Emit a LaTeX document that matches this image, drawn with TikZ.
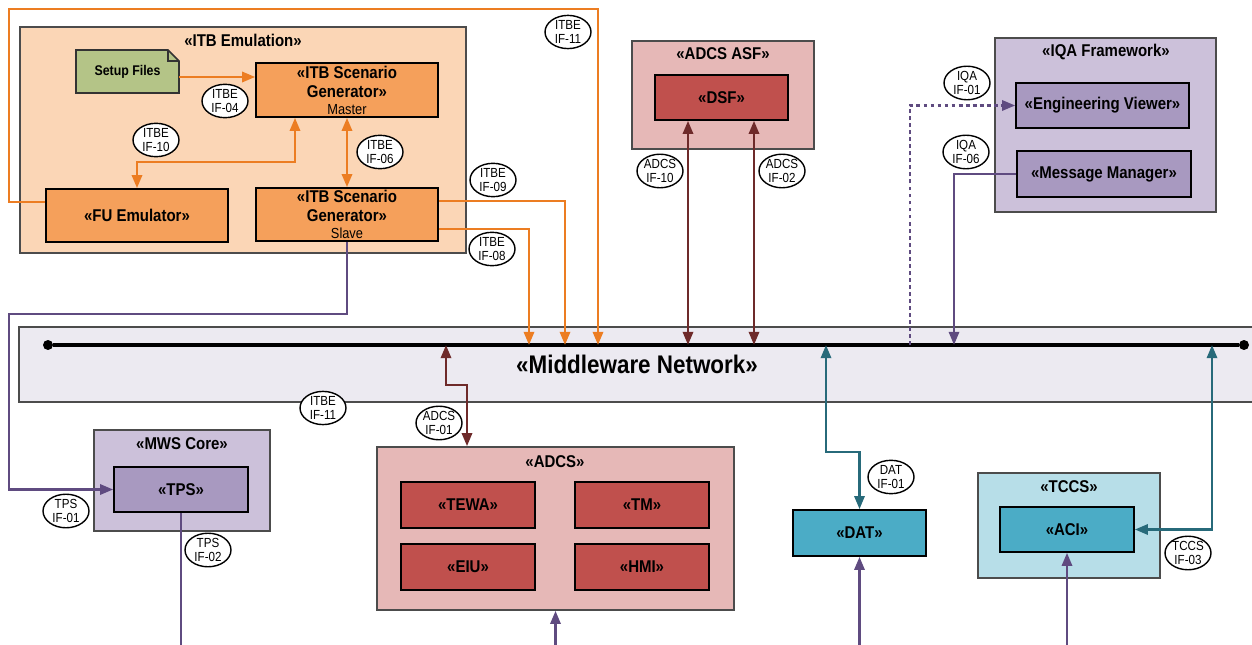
\documentclass[tikz,border=0pt]{standalone}
\usepackage{fontspec}
\setmainfont{Liberation Sans}[FakeStretch=0.88]
\usepackage{tikz}
\usetikzlibrary{
  	positioning,
  	arrows.meta,
  	shapes,
  	calc
  }
\definecolor{lnorange}{RGB}{236,125,34}
\definecolor{itbfill}{RGB}{251,214,182}
\definecolor{orgbox}{RGB}{245,160,91}
\definecolor{setupgreen}{RGB}{180,196,135}
\definecolor{asffill}{RGB}{230,184,183}
\definecolor{redbox}{RGB}{192,80,77}
\definecolor{brownln}{RGB}{110,42,42}
\definecolor{iqafill}{RGB}{204,193,218}
\definecolor{purpbox}{RGB}{168,153,192}
\definecolor{purpln}{RGB}{95,75,128}
\definecolor{tccsfill}{RGB}{183,222,232}
\definecolor{tealbox}{RGB}{75,172,198}
\definecolor{tealln}{RGB}{39,106,122}
\definecolor{mwfill}{RGB}{236,234,241}
\newcommand{\ttlfont}{\fontsize{9.7}{11}\bfseries}
\newcommand{\blkfont}{\fontsize{9.7}{11}\bfseries}
\newcommand{\subfont}{\fontsize{8.3}{9}\mdseries}
\newcommand{\ifcfont}{\fontsize{7.5}{8.2}\selectfont}

\begin{document}
\begin{tikzpicture}[x=0.02cm, y=-0.02cm,
  grp/.style={draw=black!70, line width=0.9pt, inner sep=0pt},
  blk/.style={draw=black, line width=0.9pt, inner sep=0pt, align=center, font=\blkfont},
  ttl/.style={inner sep=0pt, font=\ttlfont},
  ifc/.style={ellipse, draw, fill=white, line width=0.8pt, minimum width=0.92cm, minimum height=0.62cm,
    inner sep=0pt, align=center, font=\ifcfont},
  tap/.style={circle, fill=black, inner sep=0pt, minimum size=0.2cm},
  orl/.style={draw=lnorange, line width=1.5pt},
  brl/.style={draw=brownln, line width=1.5pt},
  ppl/.style={draw=purpln, line width=1.5pt},
  tll/.style={draw=tealln, line width=1.5pt},
  >={Triangle[length=7.5pt,width=5.8pt]}]
  \useasboundingbox (0,0) rectangle (1252,645);
  \coordinate (bot) at (0,645);
%
  \node[grp, fill=mwfill, minimum width=24.82cm, minimum height=1.5cm] (mw) at (639.5,364.5) {};
  \node[font=\fontsize{14.5}{16}\bfseries] (mwT) at (637,364) {«Middleware Network»};
  \node[tap] (netL) at (48,345) {};
  \node[tap] (netR) at (1244,345) {};
  \draw[line width=1.8pt] (netL) -- (netR);
%
  \node[grp, fill=itbfill, minimum width=8.92cm, minimum height=4.52cm] (itbem) at (243,140) {};
  \node[ttl] (itbemT) at (243,40) {«ITB Emulation»};
  \filldraw[fill=setupgreen, draw=black!80, line width=0.9pt] (76,50) -- (168,50) -- (179,61) -- (179,93) -- (76,93) -- cycle;
  \draw[draw=black!80, line width=0.7pt] (168,50) |- (179,61);
  \node[font=\fontsize{8}{9}\bfseries, inner sep=0pt, minimum width=2.06cm, minimum height=0.86cm] (setup) at (127.5,71.5) {Setup Files};
  \node[blk, fill=orgbox, minimum width=3.64cm, minimum height=1.08cm] (master) at (347,90)
    {«ITB Scenario\\Generator»\\[-1.5pt]{\subfont Master}};
  \node[blk, fill=orgbox, minimum width=3.64cm, minimum height=1.06cm] (fuemu) at (137,215.5) {«FU Emulator»};
  \node[blk, fill=orgbox, minimum width=3.64cm, minimum height=1.06cm] (slave) at (347,214.5)
    {«ITB Scenario\\Generator»\\[-1.5pt]{\subfont Slave}};
%
  \node[grp, fill=asffill, minimum width=3.64cm, minimum height=2.16cm] (adcsasf) at (723,95) {};
  \node[ttl] (adcsasfT) at (723,54) {«ADCS ASF»};
  \node[blk, fill=redbox, minimum width=2.66cm, minimum height=0.9cm] (dsf) at (721.5,97.5) {«DSF»};
%
  \node[grp, fill=iqafill, minimum width=4.42cm, minimum height=3.48cm] (iqa) at (1105.5,125) {};
  \node[ttl] (iqaT) at (1106,52) {«IQA Framework»};
  \node[blk, fill=purpbox, minimum width=3.46cm, minimum height=0.9cm] (engview) at (1102.5,105.5) {«Engineering Viewer»};
  \node[blk, fill=purpbox, minimum width=3.48cm, minimum height=0.92cm] (msgmgr) at (1104,174) {«Message Manager»};
%
  \node[grp, fill=iqafill, minimum width=3.52cm, minimum height=2.02cm] (mws) at (182,480.5) {};
  \node[ttl] (mwsT) at (182,444) {«MWS Core»};
  \node[blk, fill=purpbox, minimum width=2.68cm, minimum height=0.9cm] (tps) at (181,489.5) {«TPS»};
%
  \node[grp, fill=asffill, minimum width=7.14cm, minimum height=3.26cm] (adcs) at (555.5,528.5) {};
  \node[ttl] (adcsT) at (555,462) {«ADCS»};
  \node[blk, fill=redbox, minimum width=2.68cm, minimum height=0.92cm] (tewa) at (468,505) {«TEWA»};
  \node[blk, fill=redbox, minimum width=2.68cm, minimum height=0.92cm] (tm) at (642,505) {«TM»};
  \node[blk, fill=redbox, minimum width=2.68cm, minimum height=0.92cm] (eiu) at (468,567) {«EIU»};
  \node[blk, fill=redbox, minimum width=2.68cm, minimum height=0.92cm] (hmi) at (642,567) {«HMI»};
%
  \node[blk, fill=tealbox, minimum width=2.66cm, minimum height=0.92cm] (dat) at (859.5,533) {«DAT»};
  \node[grp, fill=tccsfill, minimum width=3.64cm, minimum height=2.1cm] (tccs) at (1069,525.5) {};
  \node[ttl] (tccsT) at (1069,487) {«TCCS»};
  \node[blk, fill=tealbox, minimum width=2.68cm, minimum height=0.9cm] (aci) at (1067,529.5) {«ACI»};
%
  % taps on the network line
  \coordinate (n08) at (529,345);
  \coordinate (n09) at (565,345);
  \coordinate (n11) at (598,345);
  \coordinate (na01) at (446,345);
  \coordinate (na10) at (688,345);
  \coordinate (na02) at (754,345);
  \coordinate (nd01) at (826,345);
  \coordinate (nq01) at (910,345);
  \coordinate (nq06) at (954,345);
  \coordinate (nt03) at (1212,345);
%
  \draw[orl, ->] (setup.east |- 0,77) -- (master.west |- 0,77);
  \draw[orl, <->] (fuemu.north) |- (295,162) -- (master.south -| 295,0);
  \draw[orl, <->] (master.south) -- (slave.north);
  \draw[orl, ->] (slave.east |- 0,201) -| (n09);
  \draw[orl, ->] (slave.east |- 0,229) -| (n08);
  \draw[orl, ->] (fuemu.west |- 0,202) -| (9,9) -| (n11);
  \draw[ppl, ->] (slave.south) |- (9,314) |- (tps.west);
  \draw[ppl] (tps.south) -- (tps.south |- bot);
  \draw[brl, <->] (na01) |- (467,385) -- (adcs.north -| 467,0);
  \draw[brl, <->] (na10) -- (dsf.south -| na10);
  \draw[brl, <->] (na02) -- (dsf.south -| na02);
  \draw[ppl, dash pattern=on 2.2pt off 1.8pt, ->] (nq01) |- (engview.west);
  \draw[ppl, ->] (msgmgr.west) -| (nq06);
  \draw[tll, <->] (nd01) |- (dat.north |- 0,452) -- (dat.north);
  \draw[tll, <->] (nt03) |- (aci.east);
  \draw[ppl, ->] (dat.south |- bot) -- (dat.south);
  \draw[ppl, ->] (aci.south |- bot) -- (aci.south);
  \draw[ppl, ->] (adcs.south |- bot) -- (adcs.south);
%
  \node[ifc] (l11a) at (568,32) {ITBE\\IF-11};
  \node[ifc] (l04) at (225,101) {ITBE\\IF-04};
  \node[ifc] (l10) at (156,140) {ITBE\\IF-10};
  \node[ifc] (l06) at (380,152) {ITBE\\IF-06};
  \node[ifc] (l09) at (493,180) {ITBE\\IF-09};
  \node[ifc] (l08) at (492,249) {ITBE\\IF-08};
  \node[ifc] (l11b) at (323,408) {ITBE\\IF-11};
  \node[ifc] (la01) at (439,423) {ADCS\\IF-01};
  \node[ifc] (lt01) at (66,511) {TPS\\IF-01};
  \node[ifc] (lt02) at (208,550) {TPS\\IF-02};
  \node[ifc] (la10) at (660,171) {ADCS\\IF-10};
  \node[ifc] (la02) at (782,171) {ADCS\\IF-02};
  \node[ifc] (lq01) at (967,83) {IQA\\IF-01};
  \node[ifc] (lq06) at (966,152) {IQA\\IF-06};
  \node[ifc] (ld01) at (891,477) {DAT\\IF-01};
  \node[ifc] (lc03) at (1188,553) {TCCS\\IF-03};
\end{tikzpicture}
\end{document}
